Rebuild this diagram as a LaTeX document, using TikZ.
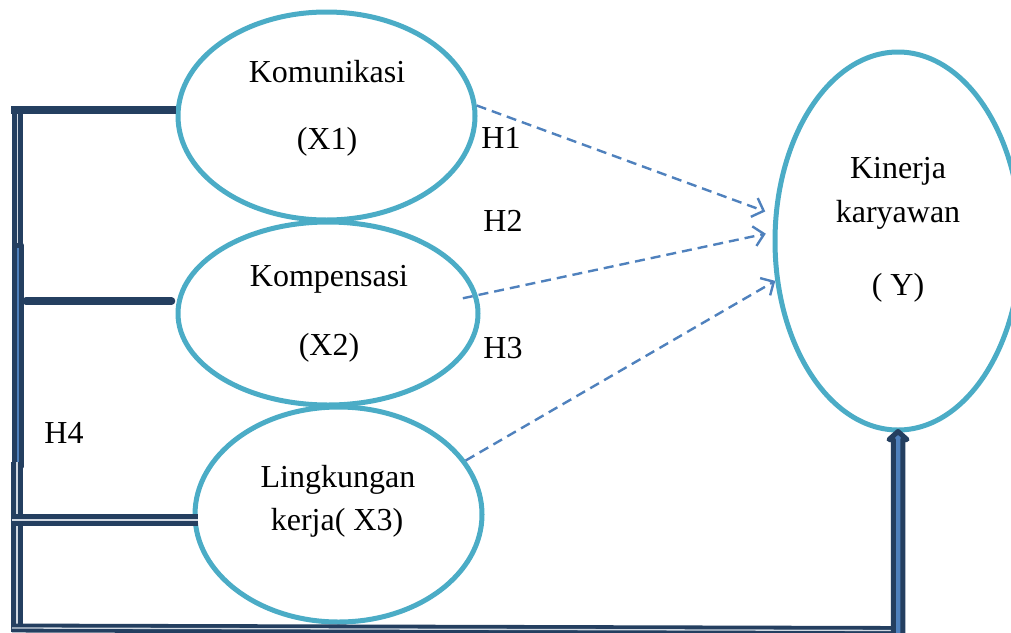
\documentclass[tikz,border=0pt]{standalone}
\usepackage{fontspec}
\setmainfont{Liberation Serif}
\usetikzlibrary{shapes.geometric,arrows.meta,calc}
\definecolor{aqua}{HTML}{4BACC6}
\definecolor{accblue}{HTML}{4F81BD}
\definecolor{darkbar}{HTML}{243F60}
\definecolor{stripe}{HTML}{D0D8E2}
\begin{document}
\begin{tikzpicture}[x=1pt,y=-1pt,
  lat/.style={ellipse,draw=aqua,line width=5pt,inner sep=0pt},
  lbl/.style={anchor=base,inner sep=0pt,font=\fontsize{32}{38}\selectfont},
  dasharrow/.style={draw=accblue,line width=2.4pt,dash pattern=on 10pt off 6pt,-{Straight Barb[length=10pt,width=20pt]}},
  solidbar/.style={draw=darkbar,line width=7.5pt},
  dblbar/.style={draw=darkbar,line width=5pt,double=stripe,double distance=1.6pt},
  blockbar/.style={draw=darkbar,fill=accblue,line width=5pt,line join=round}
]
\clip (0,0) rectangle (1011,632);
\useasboundingbox (0,0) rectangle (1011,632);

% latent variables
\node[lat,minimum width=297pt,minimum height=208pt] (x1) at (326.5,116) {};
\node[lat,minimum width=300pt,minimum height=183pt] (x2) at (328,313.5) {};
\node[lat,minimum width=287pt,minimum height=215pt] (x3) at (338.5,514.5) {};
\node[lat,minimum width=246pt,minimum height=378pt] (y) at (898,241) {};

% texts
\node[lbl] (t11) at (327,82) {Komunikasi};
\node[lbl] (t12) at (327,149) {(X1)};
\node[lbl] (t21) at (329,286) {Kompensasi};
\node[lbl] (t22) at (329,355) {(X2)};
\node[lbl] (t31) at (338,487) {Lingkungan};
\node[lbl] (t32) at (337,530) {kerja( X3)};
\node[lbl] (ty1) at (898,178) {Kinerja};
\node[lbl] (ty2) at (898,222) {karyawan};
\node[lbl] (ty3) at (898,295) {( Y)};
\node[lbl] (h1) at (501,148) {H1};
\node[lbl] (h2) at (503,231) {H2};
\node[lbl] (h3) at (503,358) {H3};
\node[lbl] (h4) at (64,443) {H4};

% left spine
\coordinate (s1) at (17.5,106);
\coordinate (s2) at (17.5,245);
\coordinate (s3) at (17.5,466);
\coordinate (s4) at (17,462);
\coordinate (s5) at (17,632);
\coordinate (b1) at (12,628);
\draw[dblbar] (s1) -- (s2);
\draw[blockbar] ($(s2)+(-3.5,0)$) rectangle ($(s3)+(4,0)$);
\draw[dblbar] (s4) -- (s5);

% bars to latent variables
\draw[solidbar] (x1.west |- 0,110) -- (11,110);
\draw[solidbar,line cap=round] ($(x2.west)+(-4,-12.5)$) -- (26,301);
\draw[dblbar,double distance=1.2pt] ($(x3.west)+(5,5.5)$) -- (12,520);

% bottom return line and block arrow into Y
\draw[dblbar,line width=3.8pt,double distance=1.3pt] (b1) -- ($(y.south)+(4,198)$);
\draw[blockbar] ($(y.south)+(-4.75,204)$) -- ($(y.south)+(-4.75,7)$) -- ($(y.south)+(-9,7)$) -- ($(y.south)+(0,-1)$) -- ($(y.south)+(9,7)$) -- ($(y.south)+(4.75,7)$) -- ($(y.south)+(4.75,204)$) -- cycle;

% hypotheses arrows
\draw[dasharrow,shorten >=9pt] (x1.4.2) -- (y.168.8);
\draw[dasharrow,shorten <=-15pt,shorten >=7pt] (x2.7.3) -- (y.176);
\draw[dasharrow] (x3.23) -- (y.198.9);
\end{tikzpicture}
\end{document}
